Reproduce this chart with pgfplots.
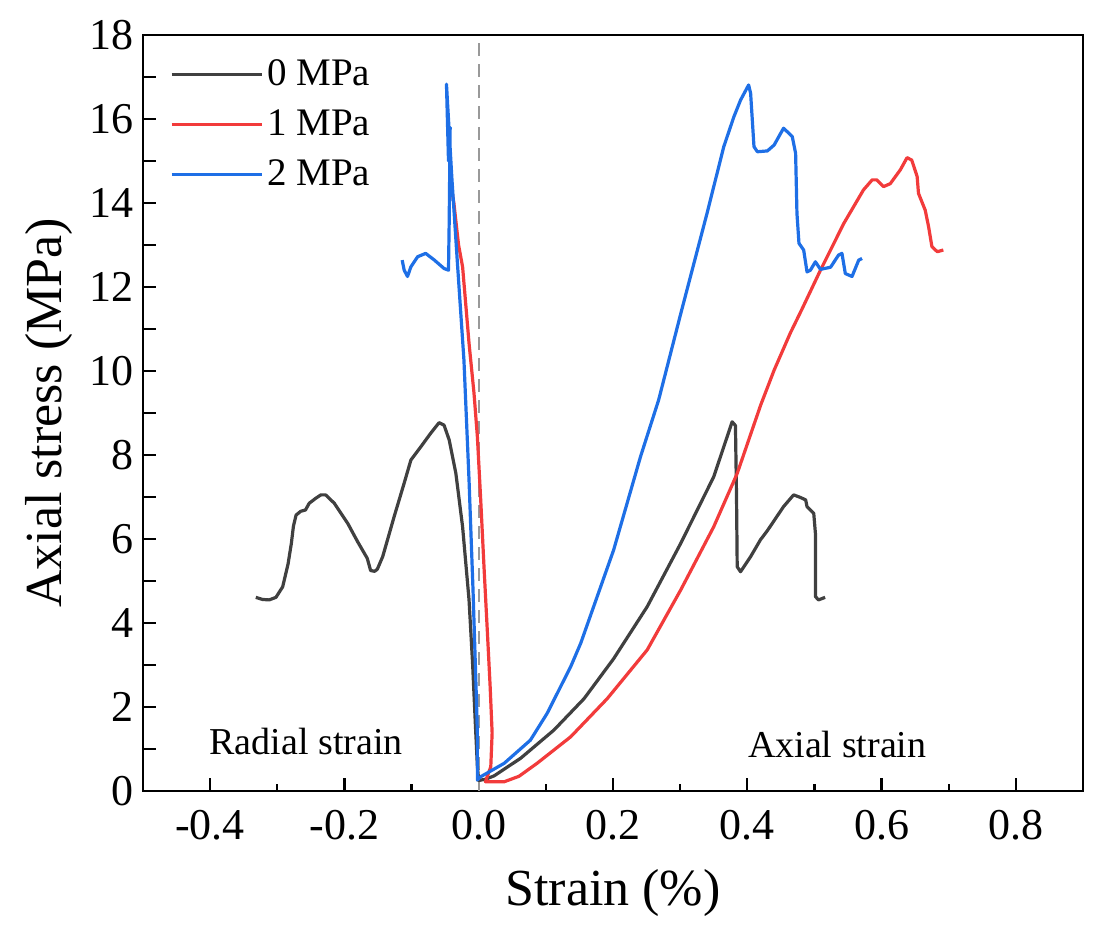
\documentclass[border=0pt]{standalone}
\usepackage{pgfplots}
\pgfplotsset{compat=1.18}
\usepackage{fontspec}
\setmainfont{Liberation Serif}
\definecolor{cblack}{HTML}{404040}
\definecolor{cred}{HTML}{F23B3B}
\definecolor{cblue}{HTML}{1E6FE6}
\begin{document}
\begin{tikzpicture}
\begin{axis}[
  scale only axis,
  width=470pt, height=378pt,
  xmin=-0.5, xmax=0.9, ymin=0, ymax=18,
  axis line style={line width=1.2pt},
  every tick/.style={line width=1.1pt, black},
  tick align=inside,
  xtick pos=bottom, ytick pos=left,
  xtick={-0.4,-0.2,0,0.2,0.4,0.6,0.8},
  xticklabels={-0.4,-0.2,0.0,0.2,0.4,0.6,0.8},
  minor xtick={-0.3,-0.1,0.1,0.3,0.5,0.7},
  ytick={0,1,...,18},
  yticklabels={0,,2,,4,,6,,8,,10,,12,,14,,16,,18},
  major tick length=6.5pt, minor tick length=3.5pt,
  ticklabel style={font=\fontsize{22}{26}\selectfont},
  xticklabel style={yshift=-6pt},
  yticklabel style={xshift=-1pt},
  xlabel={Strain (\%)}, ylabel={Axial stress (MPa)},
  xlabel style={yshift=-8pt},
  ylabel style={yshift=2pt},
  label style={font=\fontsize{26}{30}\selectfont},
  legend style={at={(0.022,0.978)}, anchor=north west, draw=none, fill=none,
    font=\fontsize{19.5}{23}\selectfont, row sep=6.5pt},
  legend cell align=left,
  legend image code/.code={\draw[#1] (0pt,0pt) -- (45pt,0pt);},
  every axis plot/.append style={line width=1.6pt, line join=round},
]
\addplot[gray!80, dashed, line width=1pt, dash pattern=on 6.5pt off 4pt, forget plot] coordinates {(0,0) (0,18)};
\addplot[cblack] coordinates {
(-0.332,4.61) (-0.322,4.56) (-0.312,4.55) (-0.302,4.61) (-0.292,4.86) (-0.284,5.4) (-0.279,5.9) (-0.276,6.3) (-0.272,6.57) (-0.265,6.66) (-0.258,6.69) (-0.2525,6.85) (-0.2426,6.97) (-0.235,7.05) (-0.228,7.05) (-0.215,6.85) (-0.195,6.37) (-0.1805,5.94) (-0.166,5.54) (-0.161,5.25) (-0.155,5.23) (-0.151,5.28) (-0.143,5.58) (-0.126,6.53) (-0.111,7.33) (-0.101,7.88) (-0.086,8.2) (-0.0714,8.52) (-0.059,8.77) (-0.0516,8.71) (-0.044,8.36) (-0.034,7.56) (-0.024,6.29) (-0.0144,4.55) (-0.009,3.0) (-0.005,1.6) (-0.002,0.6) (0.0,0.25)
(0.010,0.28) (0.023,0.36) (0.0625,0.78) (0.112,1.45) (0.157,2.2) (0.201,3.15) (0.251,4.39) (0.301,5.9) (0.350,7.48) (0.3775,8.79) (0.3824,8.7) (0.384,7.0) (0.385,5.34) (0.390,5.22) (0.405,5.58) (0.4196,5.98) (0.43,6.2) (0.454,6.77) (0.469,7.05) (0.479,6.99) (0.487,6.93) (0.489,6.77) (0.499,6.61) (0.5015,6.13) (0.5015,4.63) (0.506,4.55) (0.516,4.61)
};
\addlegendentry{0 MPa}
\addplot[cred] coordinates {
(-0.043,14.7) (-0.040,14.3) (-0.037,14.0) (-0.030,13.0) (-0.024,12.48) (-0.0144,10.66) (-0.007,9.47) (-0.002,8.44) (0.003,6.93) (0.008,5.3) (0.013,3.76) (0.017,2.5) (0.02,1.38) (0.018,0.58) (0.01,0.22)
(0.038,0.22) (0.06,0.35) (0.087,0.66) (0.137,1.29) (0.1915,2.2) (0.251,3.36) (0.301,4.79) (0.350,6.29) (0.385,7.56) (0.42,9.19) (0.44,10.02) (0.464,10.9) (0.482,11.49) (0.509,12.4) (0.544,13.52) (0.573,14.31) (0.586,14.55) (0.593,14.55) (0.603,14.39) (0.613,14.46) (0.628,14.79) (0.638,15.08) (0.645,15.02) (0.653,14.63) (0.655,14.23) (0.665,13.83) (0.670,13.44) (0.675,12.96) (0.683,12.84) (0.692,12.88)
};
\addlegendentry{1 MPa}
\addplot[cblue] coordinates {
(-0.114,12.64) (-0.111,12.4) (-0.106,12.25) (-0.101,12.48) (-0.091,12.72) (-0.079,12.8) (-0.066,12.64) (-0.0516,12.44) (-0.045,12.4) (-0.044,13.5) (-0.0425,15.8) (-0.045,15.0) (-0.048,16.83) (-0.040,14.6) (-0.032,12.64) (-0.022,10.26) (-0.0144,7.4) (-0.0085,4.8) (-0.004,2.5) (-0.002,1.38) (-0.002,0.26)
(0.003,0.34) (0.038,0.66) (0.077,1.21) (0.102,1.85) (0.137,2.96) (0.152,3.52) (0.201,5.74) (0.241,7.96) (0.268,9.31) (0.301,11.37) (0.340,13.75) (0.365,15.34) (0.380,16.05) (0.390,16.45) (0.402,16.81) (0.405,16.61) (0.41,15.34) (0.415,15.22) (0.43,15.24) (0.44,15.38) (0.454,15.78) (0.462,15.66) (0.467,15.58) (0.472,15.18) (0.474,13.75) (0.477,13.04) (0.484,12.88) (0.489,12.36) (0.494,12.4) (0.5015,12.6) (0.509,12.42) (0.524,12.47) (0.536,12.76) (0.541,12.8) (0.546,12.32) (0.556,12.25) (0.566,12.64) (0.571,12.68)
};
\addlegendentry{2 MPa}
\node[font=\fontsize{19}{22}\selectfont] at (axis cs:-0.257,1.17) {Radial strain};
\node[font=\fontsize{19}{22}\selectfont] at (axis cs:0.534,1.1) {Axial strain};
\end{axis}
\pgfresetboundingbox
\path[use as bounding box] (-71.5pt,-80pt) rectangle (478.5pt,395.5pt);
\end{tikzpicture}
\end{document}
